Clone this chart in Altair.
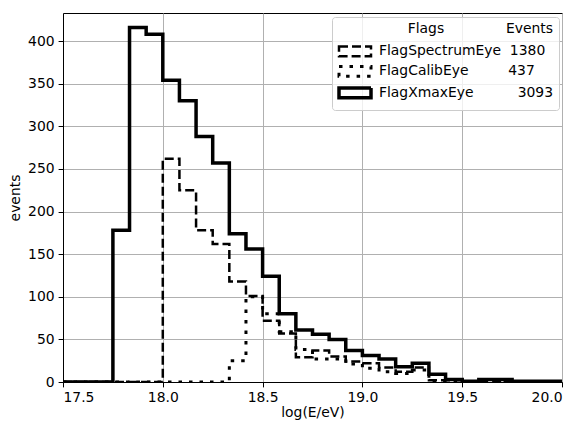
import altair as alt
import pandas as pd

# Histogram binning (30 bins over 17.5 .. 20.0)
bin_start = 17.5
bin_width = 1.0 / 12.0
n_bins = 30

flag_names = ["FlagSpectrumEye", "FlagCalibEye", "FlagXmaxEye"]
flag_events = [1380, 437, 3093]

spectrum_counts = [0, 0, 0, 0, 0, 0, 262, 225, 178, 162, 118, 101, 72, 57, 29,
                   37, 30, 24, 22, 17, 12, 17, 2, 2, 1, 1, 1, 1, 0, 1]
calib_counts = [0, 0, 0, 0, 0, 0, 0, 0, 0, 0, 25, 100, 80, 59, 38,
                27, 27, 21, 16, 12, 10, 14, 1, 1, 0, 1, 0, 0, 0, 0]
xmax_counts = [0, 0, 0, 178, 416, 408, 354, 330, 288, 257, 174, 156, 124, 80, 61,
               56, 50, 37, 31, 27, 18, 22, 9, 3, 1, 3, 3, 1, 1, 1]

x_ticks = [17.5, 18.0, 18.5, 19.0, 19.5, 20.0]
y_ticks = [0, 50, 100, 150, 200, 250, 300, 350, 400]

NB = "\u00a0"
label_gaps = [2, 9, 10]
labels = [f"{n}{NB * g}{e}" for n, g, e in zip(flag_names, label_gaps, flag_events)]
legend_title = "Flags" + NB * 14 + "Events"

edges = [bin_start + k * bin_width for k in range(n_bins + 1)]
rows = []
for lab, counts in zip(labels, [spectrum_counts, calib_counts, xmax_counts]):
    idx = 0
    rows.append({"flag": lab, "x": edges[0], "y": 0, "idx": idx})
    for i, c in enumerate(counts):
        idx += 1
        rows.append({"flag": lab, "x": edges[i], "y": c, "idx": idx})
    idx += 1
    rows.append({"flag": lab, "x": edges[-1], "y": counts[-1], "idx": idx})
    idx += 1
    rows.append({"flag": lab, "x": edges[-1], "y": 0, "idx": idx})
df = pd.DataFrame(rows)

FONT = "DejaVu Sans"
FS = 13.9

chart = alt.Chart(df).mark_line(interpolate="step-after", color="black", clip=True).encode(
    x=alt.X("x:Q", scale=alt.Scale(domain=[17.5, 20.0], nice=False, zero=False),
            axis=alt.Axis(values=x_ticks, format=".1f", title="log(E/eV)", titlePadding=1)),
    y=alt.Y("y:Q", scale=alt.Scale(domain=[0, 433], nice=False),
            axis=alt.Axis(values=y_ticks, title="events", titlePadding=5)),
    strokeDash=alt.StrokeDash(
        "flag:N",
        scale=alt.Scale(domain=labels, range=[[9, 4], [3.5, 7], [1, 0]]),
        legend=alt.Legend(
            title=legend_title, orient="none", legendX=269, legendY=4,
            symbolType="M-1,-0.6H3V0.6H-1Z", symbolSize=256,
            symbolStrokeWidth=2.5, symbolStrokeColor="black", symbolFillColor="transparent",
            fillColor="rgba(255,255,255,0.8)", strokeColor="#cccccc", cornerRadius=3,
            padding=5, titleFontSize=FS, titleFontWeight="normal", titleFont=FONT,
            titleColor="black", titleAnchor="end", titlePadding=6,
            labelFontSize=FS, labelFont=FONT,
            labelColor="black", labelOffset=22, rowPadding=-3.5, labelLimit=300,
        ),
    ),
    strokeWidth=alt.StrokeWidth("flag:N", scale=alt.Scale(domain=labels, range=[2.5, 3.5, 2.5]), legend=None),
    order="idx:Q",
).properties(
    width=499, height=369,
    autosize=alt.AutoSizeParams(type="none"),
    padding={"left": 63, "top": 13, "right": 17, "bottom": 44},
).configure_axis(
    labelFont=FONT, titleFont=FONT, labelFontSize=FS, titleFontSize=FS,
    titleFontWeight="normal", labelColor="black", titleColor="black",
    tickColor="black", domainColor="black", tickSize=4.9, tickWidth=1, domainWidth=1,
    gridColor="#b0b0b0", gridWidth=1, labelPadding=4,
).configure_view(stroke="black", strokeWidth=1)

chart.save("out.html", embed_options={"renderer": "svg", "actions": False})
